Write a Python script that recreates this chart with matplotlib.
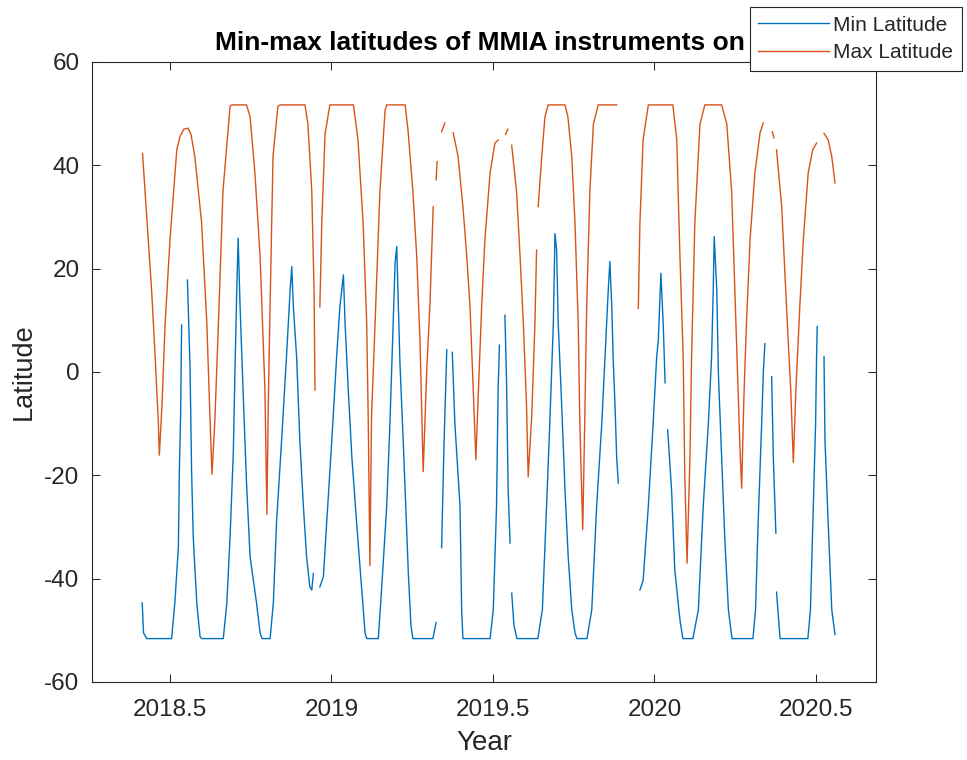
import numpy as np
import matplotlib
matplotlib.use("Agg")
import matplotlib.pyplot as plt

nan = np.nan

# Min latitude per day (nan = data gap)
min_year = [
    2018.414, 2018.418, 2018.428, 2018.505, 2018.515, 2018.526, 2018.529, 2018.533, 2018.536, nan,
    2018.554, 2018.562, 2018.567, 2018.572, 2018.577, 2018.583, 2018.593, 2018.598, 2018.665, 2018.676,
    2018.686, 2018.696, 2018.701, 2018.707, 2018.711, 2018.717, 2018.727, 2018.737, 2018.748, 2018.768,
    2018.779, 2018.785, 2018.810, 2018.820, 2018.830, 2018.846, 2018.861, 2018.872, 2018.877, 2018.882,
    2018.892, 2018.902, 2018.913, 2018.923, 2018.933, 2018.939, 2018.944, nan,
    2018.964, 2018.975, 2018.985, 2019.001, 2019.016, 2019.026, 2019.037, 2019.042, 2019.052, 2019.063,
    2019.078, 2019.094, 2019.104, 2019.109, 2019.145, 2019.155, 2019.171, 2019.181, 2019.191, 2019.197,
    2019.202, 2019.212, 2019.222, 2019.228, 2019.238, 2019.246, 2019.252, 2019.314, 2019.324, nan,
    2019.341, 2019.348, 2019.357, nan,
    2019.374, 2019.382, 2019.398, 2019.403, 2019.407, 2019.491, 2019.501, 2019.511, 2019.516, 2019.520, nan,
    2019.537, 2019.542, 2019.547, 2019.553, nan,
    2019.558, 2019.565, 2019.574, 2019.639, 2019.653, 2019.666, 2019.676, 2019.687, 2019.692, 2019.697,
    2019.702, 2019.713, 2019.723, 2019.733, 2019.744, 2019.754, 2019.760, 2019.791, 2019.806, 2019.821,
    2019.837, 2019.847, 2019.857, 2019.862, 2019.868, 2019.872, 2019.878, 2019.883, 2019.888, nan,
    2019.955, 2019.965, 2019.981, 2019.996, 2020.007, 2020.012, 2020.020, 2020.027, 2020.033, nan,
    2020.041, 2020.053, 2020.063, 2020.079, 2020.088, 2020.119, 2020.136, 2020.151, 2020.167, 2020.177,
    2020.182, 2020.185, 2020.193, 2020.198, 2020.208, 2020.218, 2020.229, 2020.240, 2020.305, 2020.313,
    2020.321, 2020.332, 2020.337, 2020.342, nan,
    2020.363, 2020.368, 2020.376, nan,
    2020.378, 2020.389, 2020.475, 2020.483, 2020.492, 2020.499, 2020.502, 2020.504, nan,
    2020.525, 2020.528, 2020.538, 2020.549, 2020.559]
min_lat = [
    -44.7, -50.5, -51.6, -51.6, -44.7, -33.8, -19, -8, 9.1, nan,
    17.8, 1, -19.6, -31.9, -38, -44.7, -51.2, -51.6, -51.6, -44.7,
    -31.9, -15.7, -0.2, 16.5, 25.9, 12.6, -4.8, -21.5, -35.8, -44.7,
    -50.5, -51.6, -51.6, -44.7, -29, -12.8, 3.3, 15.9, 20.4, 12.6,
    3, -13.2, -26, -35.8, -41.6, -42.2, -39, nan,
    -41.6, -39.6, -29.3, -13.2, 3, 12.6, 18.8, 9.5, -3.5, -16.4,
    -29.3, -42.2, -50.5, -51.6, -51.6, -42.2, -26, -9.9, 9.5, 21.1,
    24.3, 1.7, -13.2, -22.8, -39, -49, -51.6, -51.6, -48.5, nan,
    -34, -15, 4.3, nan,
    3.8, -9.9, -26, -46, -51.6, -51.6, -46, -26, -3.5, 5.2, nan,
    11, -1.5, -22.8, -33.1, nan,
    -42.8, -49, -51.6, -51.6, -46, -26, -9.9, 9.5, 26.8, 23.6,
    9.5, -6.7, -22.8, -35.8, -46, -50.5, -51.6, -51.6, -46, -26,
    -9.9, 3, 15.9, 21.4, 12.6, 3, -6.7, -16.4, -21.5, nan,
    -42.2, -40.3, -26, -9.9, 3, 6.2, 19.1, 9.5, -2.1, nan,
    -11.2, -22.8, -38.3, -48, -51.6, -51.6, -46, -26, -9.9, 3,
    15.9, 26.2, 15.9, -0.3, -16.4, -32.5, -46, -51.6, -51.6, -46,
    -29.3, -9.9, -0.3, 5.5, nan,
    -0.9, -16.4, -31.2, nan,
    -42.6, -51.6, -51.6, -46, -26, -9.9, 3, 8.8, nan,
    3, -13.2, -29.3, -46, -50.8]

# Max latitude per day
max_year = [
    2018.415, 2018.428, 2018.443, 2018.454, 2018.464, 2018.467, 2018.475, 2018.485, 2018.500, 2018.521,
    2018.531, 2018.543, 2018.556, 2018.565, 2018.577, 2018.598, 2018.614, 2018.624, 2018.630, 2018.639,
    2018.650, 2018.664, 2018.686, 2018.691, 2018.737, 2018.748, 2018.763, 2018.779, 2018.794, 2018.800,
    2018.804, 2018.810, 2018.819, 2018.834, 2018.841, 2018.918, 2018.927, 2018.939, 2018.946, 2018.949, nan,
    2018.964, 2018.970, 2018.980, 2018.995, 2019.068, 2019.082, 2019.098, 2019.109, 2019.114, 2019.119,
    2019.124, 2019.135, 2019.150, 2019.166, 2019.171, 2019.228, 2019.237, 2019.252, 2019.264, 2019.274,
    2019.279, 2019.284, 2019.295, 2019.305, 2019.315, nan,
    2019.324, 2019.327, nan,
    2019.341, 2019.351, nan,
    2019.377, 2019.392, 2019.407, 2019.419, 2019.429, 2019.439, 2019.447, 2019.455, 2019.465, 2019.475,
    2019.491, 2019.506, 2019.516, nan,
    2019.539, 2019.546, nan,
    2019.558, 2019.573, 2019.584, 2019.594, 2019.604, 2019.609, 2019.620, 2019.630, 2019.635, nan,
    2019.640, 2019.651, 2019.661, 2019.671, 2019.723, 2019.732, 2019.744, 2019.754, 2019.764, 2019.769,
    2019.778, 2019.785, 2019.790, 2019.800, 2019.811, 2019.826, 2019.883, nan,
    2019.950, 2019.955, 2019.965, 2019.981, 2020.057, 2020.069, 2020.079, 2020.089, 2020.094, 2020.101,
    2020.110, 2020.115, 2020.125, 2020.141, 2020.156, 2020.208, 2020.224, 2020.239, 2020.249, 2020.259,
    2020.265, 2020.270, 2020.277, 2020.285, 2020.296, 2020.311, 2020.327, 2020.337, nan,
    2020.365, 2020.370, nan,
    2020.378, 2020.394, 2020.404, 2020.414, 2020.422, 2020.430, 2020.438, 2020.450, 2020.461, 2020.476,
    2020.490, 2020.502, nan,
    2020.525, 2020.538, 2020.549, 2020.559]
max_lat = [
    42.3, 30, 15.9, 3, -9.9, -16.1, -6.7, 9.5, 25.6, 43,
    45.6, 47, 47.2, 46, 41.7, 28.8, 9.5, -9.3, -19.8, -9.3,
    9.5, 35, 51.4, 51.7, 51.7, 49.4, 38.5, 22.3, -3.5, -27.5,
    -7.4, 13.3, 41.7, 51.4, 51.7, 51.7, 48, 35, 15.9, -3.5, nan,
    12.6, 28.8, 46, 51.7, 51.7, 45, 28.8, 9.5, -9.9, -37.5,
    -8.6, 9.5, 35, 50.7, 51.7, 51.7, 46.8, 35, 22.3, 6.2,
    -6.7, -19.3, 0.4, 13.3, 32, nan,
    37.2, 40.7, nan,
    46.5, 48.2, nan,
    46.3, 41.7, 32, 22.3, 12.6, -3.5, -17, -3.5, 12.6, 25.6,
    38.5, 44.3, 44.9, nan,
    46, 47, nan,
    43.9, 35, 22.3, 9.5, -6.7, -20.3, -8.6, 9.5, 23.6, nan,
    32, 41.7, 49.4, 51.7, 51.7, 49.4, 41.7, 28.8, 9.5, -9.9,
    -30.5, -6.7, 12, 35, 48, 51.7, 51.7, nan,
    12.3, 28.8, 45, 51.7, 51.7, 45, 22.3, 3, -20.3, -37,
    -16.4, 3, 28.8, 48, 51.7, 51.7, 48, 35, 15.9, -3.5,
    -15.1, -22.5, -4.8, 9.5, 25.6, 38.5, 46.3, 48.2, nan,
    46.5, 45.3, nan,
    43, 32, 19.1, 6.2, -3.5, -17.5, -3.5, 12.6, 25.6, 38.5,
    43, 44.3, nan,
    46.2, 44.9, 41.7, 36.6]

xtick_vals = [2018.5, 2019, 2019.5, 2020, 2020.5]
xtick_labels = ["2018.5", "2019", "2019.5", "2020", "2020.5"]
ytick_vals = [-60, -40, -20, 0, 20, 40, 60]

plt.rcParams['font.family'] = ['Liberation Sans', 'DejaVu Sans']
plt.rcParams['axes.unicode_minus'] = False
dark = '#262626'

fig = plt.figure(figsize=(9.67, 7.6), dpi=100)
ax = fig.add_axes([92/967, 1 - 682/760, 784/967, 620/760])

ax.plot(min_year, min_lat, color='#0072BD', lw=1.0, label='Min Latitude')
ax.plot(max_year, max_lat, color='#D95319', lw=1.0, label='Max Latitude')

ax.set_xlim(2018.2585, 2020.686)
ax.set_ylim(-60, 60)
ax.set_xticks(xtick_vals)
ax.set_xticklabels(xtick_labels)
ax.set_yticks(ytick_vals)

ax.tick_params(direction='in', length=6, width=0.75, top=True, right=True,
               colors=dark, labelsize=17.5)
ax.tick_params(axis='x', pad=12)
ax.tick_params(axis='y', pad=9)
for s in ax.spines.values():
    s.set_color(dark)
    s.set_linewidth(0.8)

ax.set_xlabel('Year', fontsize=20, color=dark)
ax.set_ylabel('Latitude', fontsize=19.5, color=dark)
ax.xaxis.set_label_coords(0.5, -0.078)
ax.yaxis.set_label_coords(-0.07, 0.5)

ax.text(0.157, 1.030, 'Min-max latitudes of MMIA instruments on ISS',
        transform=ax.transAxes, ha='left', va='center',
        fontsize=19.0, fontweight='bold', color='black')

leg = fig.legend(loc='upper right', bbox_to_anchor=(962/967, 1 - 7/760),
                 borderaxespad=0, fontsize=15, handlelength=3.4,
                 handletextpad=0.2, borderpad=0.42, labelspacing=0.4,
                 fancybox=False, framealpha=1, edgecolor=dark)
leg.get_frame().set_linewidth(0.8)
for t in leg.get_texts():
    t.set_color(dark)

fig.savefig('out.png', dpi=100)
